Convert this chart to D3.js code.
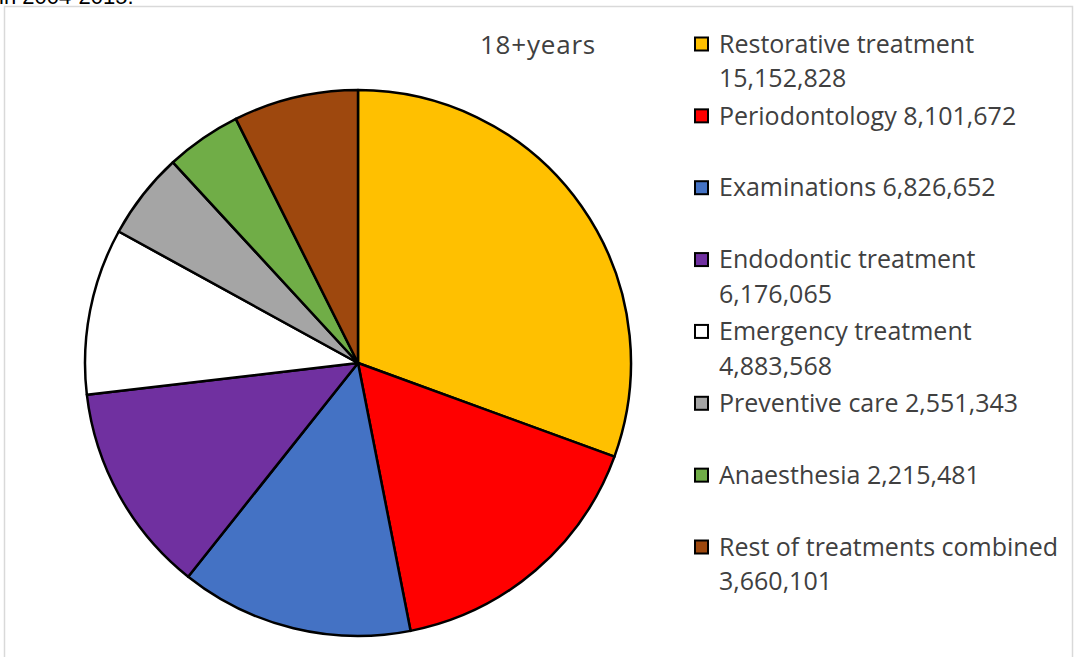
<!DOCTYPE html>
<html>
<head>
<meta charset="utf-8">
<script src="https://cdn.jsdelivr.net/npm/d3@7"></script>
<style>
  html, body { margin: 0; padding: 0; background: #fff; }
  svg { display: block; }
  text { font-variant-ligatures: none; }
</style>
</head>
<body>
<svg id="chart" width="1075" height="657"></svg>
<script>
// Treatments for adults (18+ years), number of procedures
const categories = [
  "Restorative treatment",
  "Periodontology",
  "Examinations",
  "Endodontic treatment",
  "Emergency treatment",
  "Preventive care",
  "Anaesthesia",
  "Rest of treatments combined"
];
const values = [15152828, 8101672, 6826652, 6176065, 4883568, 2551343, 2215481, 3660101];
const colors = ["#FFC000", "#FF0000", "#4472C4", "#7030A0", "#FFFFFF", "#A5A5A5", "#70AD47", "#9E480E"];
// Legend text wrapped as two lines where the entry is long
const legendLines = [
  ["Restorative treatment", "15,152,828"],
  ["Periodontology 8,101,672"],
  ["Examinations 6,826,652"],
  ["Endodontic treatment", "6,176,065"],
  ["Emergency treatment", "4,883,568"],
  ["Preventive care 2,551,343"],
  ["Anaesthesia 2,215,481"],
  ["Rest of treatments combined", "3,660,101"]
];
const chartTitle = "18+years";
const captionTail = "in 2004-2015.";

const svg = d3.select("#chart");
const font = "'Open Sans', sans-serif";
const fontSize = 25;

// caption line above the chart frame (runs off the top edge)
svg.append("text")
  .attr("x", -1).attr("y", 4)
  .attr("font-family", "Arial, 'Liberation Sans', sans-serif")
  .attr("font-size", 22)
  .attr("fill", "#000")
  .text(captionTail);

// chart frame
svg.append("rect")
  .attr("x", 4.5).attr("y", 6.5)
  .attr("width", 1068).attr("height", 660)
  .attr("fill", "#fff")
  .attr("stroke", "#d9d9d9")
  .attr("stroke-width", 1.5);

// pie
const cx = 358, cy = 363, radius = 273;
const pie = d3.pie().sort(null).value(d => d.value);
const arc = d3.arc().innerRadius(0).outerRadius(radius);
const data = categories.map((c, i) => ({ name: c, value: values[i], color: colors[i] }));

svg.append("g")
  .attr("transform", `translate(${cx},${cy})`)
  .selectAll("path")
  .data(pie(data))
  .join("path")
  .attr("d", arc)
  .attr("fill", d => d.data.color)
  .attr("stroke", "#000")
  .attr("stroke-width", 2.5)
  .attr("stroke-linejoin", "round");

// title
svg.append("text")
  .attr("x", 538).attr("y", 45)
  .attr("dy", "0.35em")
  .attr("text-anchor", "middle")
  .attr("font-family", font)
  .attr("font-size", 26)
  .attr("letter-spacing", 0.8)
  .attr("fill", "#404040")
  .text(chartTitle);

// legend
const legendY = d3.scaleLinear().domain([0, categories.length - 1]).range([44, 547]);
const lineGap = 34.5;
const items = svg.append("g").selectAll("g")
  .data(data)
  .join("g")
  .attr("transform", (d, i) => `translate(0,${legendY(i)})`);

items.append("rect")
  .attr("x", 695).attr("y", -6.5)
  .attr("width", 13).attr("height", 13)
  .attr("fill", d => d.color)
  .attr("stroke", "#000")
  .attr("stroke-width", 2);

items.each(function (d, i) {
  const t = d3.select(this).append("text")
    .attr("font-family", font)
    .attr("font-size", fontSize)
    .attr("fill", "#404040");
  legendLines[i].forEach((line, k) => {
    t.append("tspan")
      .attr("x", 719)
      .attr("y", k * lineGap)
      .attr("dy", "0.35em")
      .text(line);
  });
});
</script>
</body>
</html>
